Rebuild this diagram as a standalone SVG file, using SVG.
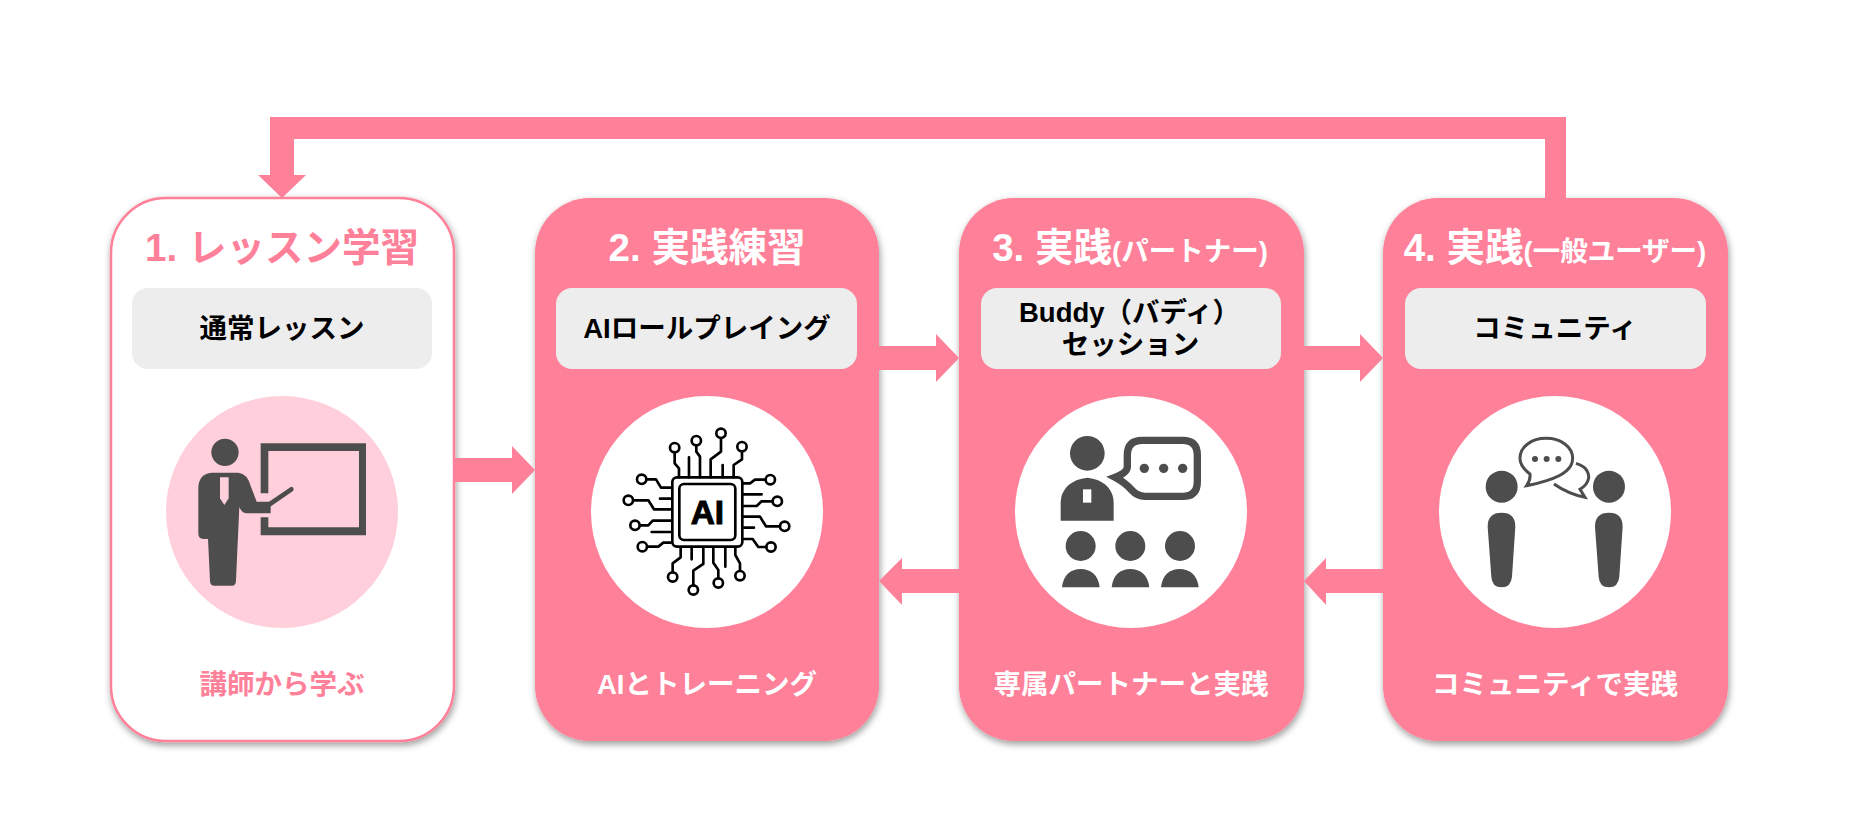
<svg xmlns="http://www.w3.org/2000/svg" width="1850" height="840" viewBox="0 0 1850 840">
<defs>
<filter id="sh" x="-10%" y="-10%" width="120%" height="120%"><feDropShadow dx="1" dy="3" stdDeviation="3.5" flood-color="#000" flood-opacity="0.4"/></filter>
<g id="lead"><circle r="14" fill="none" stroke="#000" stroke-width="8"/></g>
</defs>
<style>
text{font-family:"Liberation Sans","Noto Sans CJK JP",sans-serif;text-anchor:middle}
.card{fill:#FF8099;filter:url(#sh)}
.card1{fill:#fff;stroke:#FF8099;stroke-width:2.5;filter:url(#sh)}
.box{fill:#EDEDED}
.title{font-size:38.500px;font-weight:700;fill:#fff}
.small{font-size:27.500px}
.sub{font-size:27.500px;font-weight:700;fill:#000}
.cap{font-size:27.500px;font-weight:700;fill:#fff}
.pink{fill:#FF8099}
.disc{fill:#fff}
.ic{fill:#4D4D4D}
.arrow{fill:#FF8099}
.chip{fill:none;stroke:#000;stroke-width:8;stroke-linejoin:round;stroke-linecap:round}
</style>
<rect width="1850" height="840" fill="#fff"/>

<g id="node1">
<rect class="card1" x="111" y="198" width="343" height="543" rx="55"/>
<rect class="box" x="132" y="288" width="300" height="81" rx="16"/>
<text class="title pink" x="282" y="261">1. レッスン学習</text>
<text class="sub" x="282" y="338">通常レッスン</text>
<circle cx="282" cy="512" r="116" fill="#FFD0DB"/>
<g transform="translate(150,390) scale(0.3333)">
<path class="ic" d="M332 310V160H648V436H332V382H355V412H627V183H355V310Z"/>
<circle class="ic" cx="225" cy="187" r="41"/>
<path class="ic" d="M145 295Q145 252 185 248H265Q292 250 303 290L320 335H362V370H292Q274 370 268 350L258 572Q258 587 245 587H194Q180 587 180 572L174 447H160Q145 447 145 430Z"/>
<path d="M360 342L424 298" fill="none" stroke="#4D4D4D" stroke-width="14" stroke-linecap="round"/>
<path d="M210 262H236V325L223 345L210 325Z" fill="#FFD0DB"/>
</g>
<text class="cap pink" x="282" y="694">講師から学ぶ</text>
</g>

<g id="node2">
<rect class="card" x="535" y="198" width="344" height="543" rx="55"/>
<rect class="box" x="556" y="288" width="301" height="81" rx="16"/>
<text class="title" x="707" y="261">2. 実践練習</text>
<text class="sub" x="707" y="338">AIロールプレイング</text>
<circle class="disc" cx="707" cy="512" r="116"/>
<g transform="translate(580,400) scale(0.3333)">
<g class="chip">
<rect x="277" y="232" width="210" height="208" rx="14"/>
<rect x="298" y="252" width="168" height="168" rx="14"/>
<path d="M284 157V190L297 205V232M349 136V155L360 170V232M423 115V155L392 178V232M486 155V178L461 195V232M327 172V232M428 195V232"/>
<path d="M199 238H228L243 263H272M160 301H205L222 328H272M180 376H205L218 362H272M202 440H235L250 428H272M240 296H272M215 396H272"/>
<path d="M557 239H525L510 250H488M578 304H545L530 318H488M600 379H558L540 350H488M559 441H535L518 417H488M488 283H545M488 383H522"/>
<path d="M278 516V490L302 472V442M340 555V512L370 492V442M415 534V510L400 488V442M480 512V490L466 465V442M335 442V478M436 442V500"/>
</g>
<use href="#lead" x="284" y="143"/><use href="#lead" x="349" y="122"/><use href="#lead" x="423" y="100"/><use href="#lead" x="486" y="140"/>
<use href="#lead" x="185" y="238"/><use href="#lead" x="145" y="301"/><use href="#lead" x="165" y="376"/><use href="#lead" x="187" y="440"/>
<use href="#lead" x="571" y="239"/><use href="#lead" x="592" y="304"/><use href="#lead" x="614" y="379"/><use href="#lead" x="573" y="441"/>
<use href="#lead" x="278" y="531"/><use href="#lead" x="340" y="570"/><use href="#lead" x="415" y="549"/><use href="#lead" x="480" y="527"/>
<text x="382" y="372" style="font-size:100px;font-weight:700;fill:#000;stroke:#000;stroke-width:3">AI</text>
</g>
<text class="cap" x="707" y="694">AIとトレーニング</text>
</g>

<g id="node3">
<rect class="card" x="959" y="198" width="345" height="543" rx="55"/>
<rect class="box" x="981" y="288" width="300" height="81" rx="16"/>
<text class="title" x="1130" y="261">3. 実践<tspan class="small">(パートナー)</tspan></text>
<text class="sub" x="1019" y="322" style="text-anchor:start">Buddy（バディ）</text>
<text class="sub" x="1130.500" y="354">セッション</text>
<circle class="disc" cx="1131" cy="512" r="116"/>
<g transform="translate(1020,400) scale(0.3333)">
<circle class="ic" cx="202" cy="160" r="52"/>
<path class="ic" d="M122 362V310C122 265 155 238 202 233C249 238 281 265 281 310V362Z"/>
<rect x="189" y="268" width="25" height="40" fill="#fff"/>
<path d="M322 165Q322 121 367 121H488Q532 121 532 165V245Q532 289 488 289H375Q352 289 335 270Q315 248 285 232Q322 218 322 200Z" fill="none" stroke="#4D4D4D" stroke-width="22" stroke-linejoin="miter"/>
<circle class="ic" cx="373" cy="205" r="14"/><circle class="ic" cx="431" cy="205" r="14"/><circle class="ic" cx="488" cy="205" r="14"/>
<circle class="ic" cx="182" cy="438" r="45"/><circle class="ic" cx="331" cy="438" r="45"/><circle class="ic" cx="480" cy="438" r="45"/>
<path class="ic" d="M126 562C130 525 152 507 182 507C212 507 235 525 239 562Z"/>
<path class="ic" d="M275 562C279 525 301 507 331 507C361 507 384 525 388 562Z"/>
<path class="ic" d="M423 562C427 525 449 507 479 507C509 507 532 525 536 562Z"/>
</g>
<text class="cap" x="1131" y="694">専属パートナーと実践</text>
</g>

<g id="node4">
<rect class="card" x="1383" y="198" width="345" height="543" rx="55"/>
<rect class="box" x="1405" y="288" width="301" height="81" rx="16"/>
<text class="title" x="1555" y="261">4. 実践<tspan class="small">(一般ユーザー)</tspan></text>
<text class="sub" x="1555" y="338">コミュニティ</text>
<circle class="disc" cx="1555" cy="512" r="116"/>
<g transform="translate(1430,410) scale(0.3333)">
<circle class="ic" cx="215" cy="230" r="48"/><circle class="ic" cx="537" cy="230" r="48"/>
<path class="ic" d="M173 350Q173 308 215 308Q256 308 256 350L246 500Q243 532 215 532Q186 532 184 500Z"/>
<path class="ic" d="M495 350Q495 308 537 308Q578 308 578 350L568 500Q565 532 537 532Q508 532 506 500Z"/>
<path d="M300 192Q270 170 270 145C270 110 305 85 348 85C392 85 428 110 428 145C428 180 390 200 350 212Q320 222 290 227Q302 210 300 192Z" fill="none" stroke="#4D4D4D" stroke-width="9"/>
<circle class="ic" cx="315" cy="147" r="9"/><circle class="ic" cx="350" cy="147" r="9"/><circle class="ic" cx="385" cy="147" r="9"/>
<path d="M438 160Q478 172 476 205Q472 225 450 238L465 262Q415 252 372 222" fill="none" stroke="#4D4D4D" stroke-width="9"/>
</g>
<text class="cap" x="1555" y="694">コミュニティで実践</text>
</g>

<g id="connectors">
<path class="arrow" d="M1566 198V117H270V175H258L282 198L306 175H294V139H1545V198Z"/>
<path class="arrow" d="M454 458H512V446L535 470L512 494V482H454Z"/>
<path class="arrow" d="M879 346H936V334L959 358L936 382V370H879Z"/>
<path class="arrow" d="M1304 346H1360V334L1383 358L1360 382V370H1304Z"/>
<path class="arrow" d="M1383 569H1326V558L1304 581L1326 605V593H1383Z"/>
<path class="arrow" d="M959 569H902V558L879 581L902 605V593H959Z"/>
</g>
</svg>
